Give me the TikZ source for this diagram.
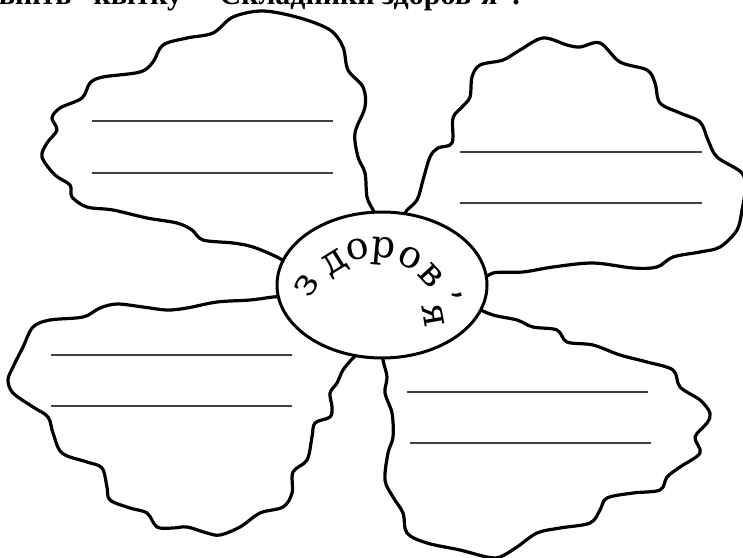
\documentclass[tikz,border=0pt]{standalone}
\usepackage{fontspec}
\setmainfont{Liberation Serif}
\newfontfamily\ringfont{DejaVu Serif}
\usetikzlibrary{shapes.geometric}
\tikzset{
  petal/.style={line width=3.2pt, line join=round, line cap=round},
  rule/.style={line width=1.5pt, black!75},
  core/.style={ellipse, draw, line width=3pt, fill=white, minimum width=210pt, minimum height=146pt, inner sep=0pt},
  letter/.style={font=\ringfont\fontsize{38}{42}\selectfont, inner sep=0pt, text height=1ex, text depth=0pt},
  heading/.style={font=\bfseries\fontsize{30}{36}\selectfont, inner sep=0pt}
}
\begin{document}
\begin{tikzpicture}[x=1pt,y=-1pt]
\useasboundingbox (0,0) rectangle (743,557);
\node[heading, anchor=base east] (heading) at (520,4) {Заповніть "квітку" "Складники здоров’я".};
\draw[petal] plot[smooth, tension=0.55] coordinates {(378,222) (373,210) (367,197) (365,173) (358,157) (355,133) (365,107) (363,87) (348,70) (343,47) (330,30) (300,18) (263,11) (233,17) (213,33) (187,38) (163,45) (153,62) (140,72) (103,77) (90,83) (82,98) (60,108) (52,118) (57,130) (47,143) (42,157) (55,175) (70,185) (72,197) (87,207) (113,210) (147,218) (177,223) (192,230) (203,240) (233,243) (253,247) (277,257) (290,265)};
\draw[petal] plot[smooth, tension=0.55] coordinates {(410,224) (405,213) (417,200) (423,180) (430,157) (438,148) (452,143) (453,118) (462,107) (470,97) (472,77) (480,65) (503,60) (520,50) (543,38) (567,45) (580,47) (600,43) (620,62) (647,70) (655,83) (660,103) (680,113) (700,122) (708,140) (717,157) (742,173) (745,190) (742,210) (737,230) (720,247) (700,252) (673,257) (657,267) (633,268) (593,263) (553,267) (523,272) (493,273) (480,283) (470,290)};
\draw[petal] plot[smooth, tension=0.55] coordinates {(288,296) (273,297) (250,300) (217,302) (187,308) (167,310) (143,307) (117,304) (100,308) (83,317) (50,320) (33,327) (23,347) (13,367) (8,380) (13,393) (33,407) (48,417) (53,433) (62,453) (87,462) (102,468) (107,487) (110,500) (130,508) (147,513) (157,527) (173,528) (187,527) (207,533) (220,535) (240,527) (260,513) (283,507) (292,493) (293,472) (307,460) (312,437) (315,423) (330,417) (332,407) (330,393) (337,383) (343,370) (353,358) (362,350)};
\draw[petal] plot[smooth, tension=0.55] coordinates {(466,300) (475,307) (493,315) (517,320) (533,327) (557,330) (567,342) (593,345) (620,355) (647,362) (673,370) (680,387) (700,400) (710,413) (707,423) (695,437) (700,453) (680,467) (667,477) (660,490) (633,493) (607,498) (600,510) (590,523) (560,528) (537,533) (517,547) (500,557) (487,557) (460,550) (427,543) (407,533) (403,513) (393,497) (385,480) (388,453) (393,437) (392,413) (385,393) (387,377) (383,360) (383,348)};
\foreach \xa/\xb/\y in {92/333/121, 92/333/173, 460/702/152, 460/702/203, 51/292/355, 51/292/406, 407/648/392, 410/651/443}
  \draw[rule] (\xa,\y) -- (\xb,\y);
\node[core] (core) at (382,285) {};
\foreach \ch/\px/\py/\r [count=\i] in {з/313/289/58, д/338/268/32, о/359/257/12, р/383/255/-5, о/407/265/-27, в/425/281/-47, я/426/317/-80}
  \node[letter, rotate=\r] (ch\i) at (\px,\py) {\ch};
\node[letter, anchor=base, rotate=-65] (apos) at (436,305) {’};
\end{tikzpicture}
\end{document}
